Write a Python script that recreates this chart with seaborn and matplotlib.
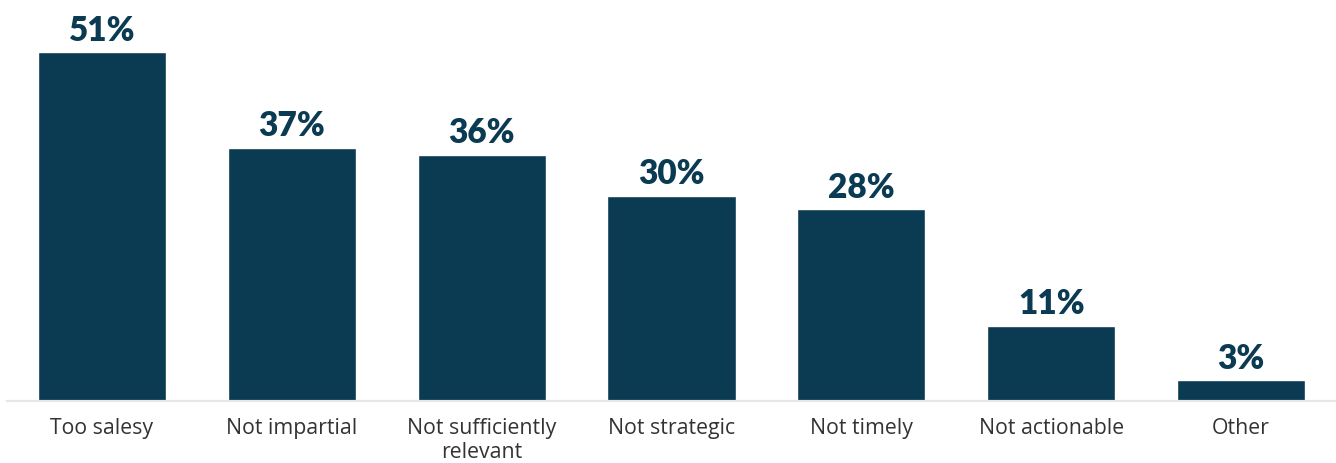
import matplotlib
matplotlib.use("Agg")
import matplotlib.pyplot as plt
import seaborn as sns
import pandas as pd

categories = ["Too salesy", "Not impartial", "Not sufficiently\nrelevant",
              "Not strategic", "Not timely", "Not actionable", "Other"]
values = [51, 37, 36, 30, 28, 11, 3]
value_labels = ["51%", "37%", "36%", "30%", "28%", "11%", "3%"]

sns.set_theme(style="white")
plt.rcParams['font.family'] = ['Lato', 'DejaVu Sans']

df = pd.DataFrame({"cat": categories, "val": values})

fig = plt.figure(figsize=(13.36, 4.63), dpi=100)
ax = fig.add_axes([7/1336, 62/463, 1 - 7/1336, 401/463])

sns.barplot(data=df, x="cat", y="val", color="#0B3A53", saturation=1,
            width=0.675, ax=ax)

ax.set_xlim(-0.5, 6.5)
ax.set_ylim(0, 401/6.84)
ax.set_xlabel("")
ax.set_ylabel("")
ax.set_yticks([])
for s in ["top", "right", "left"]:
    ax.spines[s].set_visible(False)
ax.spines["bottom"].set_color("#e6e6e6")
ax.spines["bottom"].set_linewidth(1.6)
ax.tick_params(axis="x", length=0, pad=12, labelcolor="#333333")
for t in ax.get_xticklabels():
    t.set_fontfamily(["Open Sans", "DejaVu Sans"])
    t.set_fontsize(15.3)
    t.set_fontweight("medium")
    t.set_linespacing(1.2)

ax.bar_label(ax.containers[0], labels=value_labels, padding=4,
             fontsize=24, fontweight="heavy", color="#0B3A53")

fig.savefig("out.png", dpi=100)
